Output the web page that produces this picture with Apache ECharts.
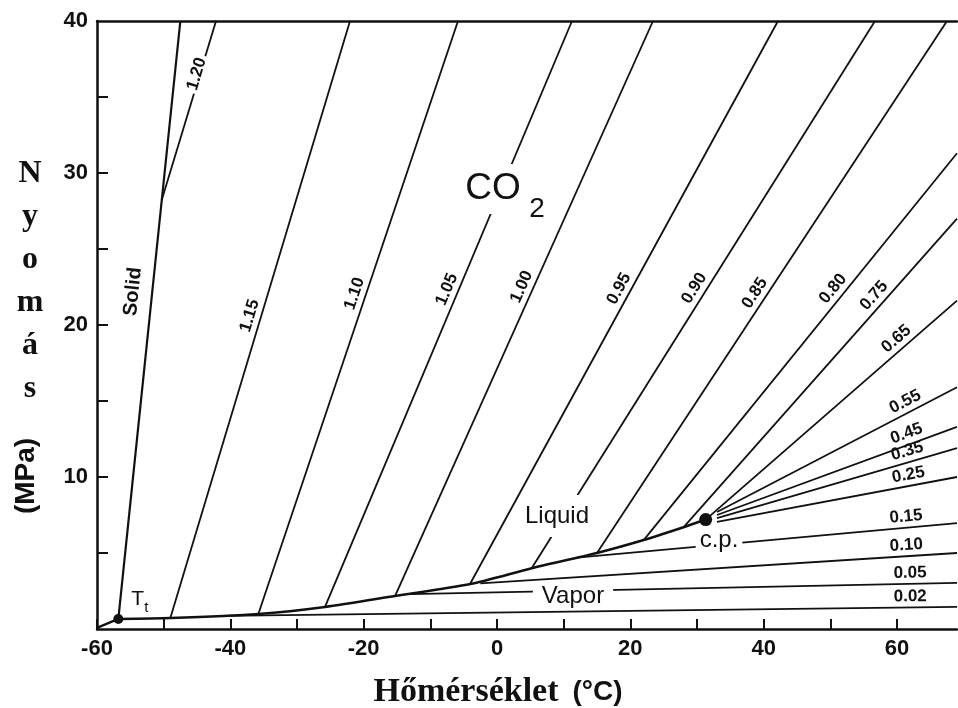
<!DOCTYPE html>
<html>
<head>
<meta charset="utf-8">
<script src="https://cdn.jsdelivr.net/npm/echarts@6/dist/echarts.min.js"></script>
<style>
  html, body { margin: 0; padding: 0; background: #fff; }
  #chart { width: 958px; height: 708px; }
</style>
</head>
<body>
<div id="chart"></div>
<script>
// ---- axes ----
const tempTicks = [-60, -50, -40, -30, -20, -10, 0, 10, 20, 30, 40, 50, 60];
const tempTickLabels = [-60, -40, -20, 0, 20, 40, 60];
const presTicks = [5, 10, 15, 20, 25, 30, 35];
const presTickLabels = [10, 20, 30, 40];

// ---- phase boundaries (T in °C, P in MPa) ----
// vapour-pressure curve from the triple point to the critical point
const satTemp = [-56.8, -49, -35.8, -25.8, -15.3, -4.0, 5.2, 15, 22, 28, 31.3];
const satPres = [0.66, 0.72, 0.99, 1.45, 2.17, 2.96, 4.0, 5.0, 5.85, 6.7, 7.2];
// sublimation curve below the triple point
const sublTemp = [-60, -56.8];
const sublPres = [0.07, 0.66];
// melting curve
const meltTemp = [-56.8, -47.5];
const meltPres = [0.66, 40];

const triplePoint = [-56.8, 0.66];
const criticalPoint = [31.3, 7.2];

// ---- isochores, density in g/cm3 ----
const isoDensity = ['1.20', '1.15', '1.10', '1.05', '1.00', '0.95', '0.90', '0.85', '0.80', '0.75',
                    '0.65', '0.55', '0.45', '0.35', '0.25', '0.15', '0.10', '0.05', '0.02'];
const isoStartTemp = [-50.3, -49, -35.8, -25.8, -15.3, -4.05, 5.2, 15, 22, 28,
                      31.3, 33, 33, 33, 33, 12, -2.5, -13, -41];
const isoStartPres = [28.2, 0.72, 0.99, 1.45, 2.17, 2.96, 4.0, 5.0, 5.85, 6.7,
                      7.2, 7.7, 7.5, 7.3, 7.05, 4.7, 3.0, 2.3, 0.86];
const isoEndTemp = [-42.15, -22.05, -5.85, 11.25, 23.4, 42.15, 56.7, 67.5, 69, 69,
                    69, 69, 69, 69, 69, 69, 69, 69, 69];
const isoEndPres = [40, 40, 40, 40, 40, 40, 40, 40, 31.3, 27.0,
                    21.6, 15.9, 13.3, 11.9, 10.0, 6.97, 5.0, 3.03, 1.45];
// temperature along each isochore where its density label sits
const isoLabelTemp = [-44.6, -35.5, -19.8, -6.0, 5.2, 19.75, 31.0, 40.05, 51.7, 57.8,
                      61.0, 62, 62, 62, 62, 61.5, 61.5, 62, 62];

// ---- region names ----
const phaseNames = ['Solid', 'Liquid', 'Vapor'];
const phaseNameTemp = [-54.6, 9.0, 11.4];
const phaseNamePres = [22.2, 7.43, 2.17];

const INK = '#111';
const SANS = "'Liberation Sans', Arial, Helvetica, sans-serif";
const SERIF = "'Liberation Serif', 'Times New Roman', serif";

const chart = echarts.init(document.getElementById('chart'));

function pairs(ts, ps) { return ts.map((t, i) => [t, ps[i]]); }

function curve(data, width, extra) {
  return Object.assign({
    type: 'line', data: data, symbol: 'none', silent: true, z: 2,
    lineStyle: { color: INK, width: width }
  }, extra || {});
}

const series = [];
series.push(curve(pairs(satTemp, satPres), 2.6, { smooth: 0.25 }));
series.push(curve(pairs(sublTemp, sublPres), 2.4));
series.push(curve(pairs(meltTemp, meltPres), 2.2));
isoDensity.forEach((d, i) => {
  series.push(curve([[isoStartTemp[i], isoStartPres[i]], [isoEndTemp[i], isoEndPres[i]]], 1.8));
});
series.push({
  type: 'scatter', silent: true, z: 4, symbol: 'circle',
  itemStyle: { color: INK, opacity: 1 },
  data: [
    { value: triplePoint, symbolSize: 10 },
    { value: criticalPoint, symbolSize: 13 }
  ]
});

const option = {
  animation: false,
  backgroundColor: '#fff',
  grid: { left: 97, right: 1, top: 21, bottom: 79, containLabel: false },
  xAxis: [{
    type: 'value', min: -60, max: 69, position: 'bottom',
    axisLine: { show: true, onZero: false, lineStyle: { color: INK, width: 2.5 } },
    axisTick: { show: true, inside: true, length: 10, customValues: tempTicks, lineStyle: { color: INK, width: 2 } },
    axisLabel: { customValues: tempTickLabels, color: INK, fontFamily: SANS, fontWeight: 'bold', fontSize: 22, margin: 9 },
    splitLine: { show: false }
  }, {
    type: 'value', min: -60, max: 69, position: 'top',
    axisLine: { show: true, onZero: false, lineStyle: { color: INK, width: 2.5 } },
    axisTick: { show: false }, axisLabel: { show: false }, splitLine: { show: false }
  }],
  yAxis: {
    type: 'value', min: 0, max: 40,
    axisLine: { show: true, onZero: false, lineStyle: { color: INK, width: 2.5 } },
    axisTick: { show: true, inside: true, length: 11, customValues: presTicks, lineStyle: { color: INK, width: 2 } },
    axisLabel: { customValues: presTickLabels, color: INK, fontFamily: SANS, fontWeight: 'bold', fontSize: 22, margin: 9 },
    splitLine: { show: false }
  },
  graphic: [
    {
      type: 'text', x: 498, y: 692, z: 10,
      style: {
        text: '{a|Hőmérséklet}{b|(°C)}', align: 'center', verticalAlign: 'middle',
        textAlign: 'center', textVerticalAlign: 'middle', fill: INK,
        rich: {
          a: { fontFamily: SERIF, fontWeight: 'bold', fontSize: 34, fill: INK },
          b: { fontFamily: SANS, fontWeight: 'bold', fontSize: 28, fill: INK, padding: [0, 0, 0, 14] }
        }
      }
    },
    {
      type: 'text', x: 30, y: 152, z: 10,
      style: {
        text: 'N\ny\no\nm\ná\ns', lineHeight: 43, align: 'center', verticalAlign: 'top',
        textAlign: 'center', textVerticalAlign: 'top', fill: INK,
        font: 'bold 32px ' + SERIF
      }
    },
    {
      type: 'text', x: 26, y: 476, rotation: Math.PI / 2, z: 10,
      style: {
        text: '(MPa)', align: 'center', verticalAlign: 'middle',
        textAlign: 'center', textVerticalAlign: 'middle', fill: INK,
        font: 'bold 28px ' + SANS
      }
    }
  ],
  series: series
};

chart.setOption(option);

// ---- labels, placed along the drawn lines ----
const toPx = (t, p) => chart.convertToPixel({ gridIndex: 0 }, [t, p]);
const toData = (x, y) => chart.convertFromPixel({ gridIndex: 0 }, [x, y]);
const angleOf = (a, b) => Math.atan2(a[1] - b[1], b[0] - a[0]);

const isoLabels = isoDensity.map((d, i) => {
  const a = toPx(isoStartTemp[i], isoStartPres[i]);
  const b = toPx(isoEndTemp[i], isoEndPres[i]);
  const ang = angleOf(a, b);
  const f = (isoLabelTemp[i] - isoStartTemp[i]) / (isoEndTemp[i] - isoStartTemp[i]);
  const px = a[0] + f * (b[0] - a[0]);
  const py = a[1] + f * (b[1] - a[1]);
  const onLine = i === 0;
  const gap = onLine ? 3 : 11;
  return {
    value: toData(px - gap * Math.sin(ang), py - gap * Math.cos(ang)),
    label: {
      formatter: d,
      rotate: ang * 180 / Math.PI,
      backgroundColor: onLine ? '#fff' : 'transparent',
      padding: onLine ? [0, 3] : 0
    }
  };
});

const meltAngle = angleOf(toPx(meltTemp[0], meltPres[0]), toPx(meltTemp[1], meltPres[1])) * 180 / Math.PI;

const noteLabels = [
  { value: [phaseNameTemp[0], phaseNamePres[0]],
    label: { formatter: phaseNames[0], rotate: meltAngle, fontWeight: 'bold', fontSize: 20 } },
  { value: [phaseNameTemp[1], phaseNamePres[1]],
    label: { formatter: phaseNames[1], fontSize: 24, backgroundColor: '#fff', padding: [8, 3, 10, 3] } },
  { value: [phaseNameTemp[2], phaseNamePres[2]],
    label: { formatter: phaseNames[2], fontSize: 24, backgroundColor: '#fff', padding: [0, 9] } },
  { value: [33.3, 5.86],
    label: { formatter: 'c.p.', fontSize: 24, backgroundColor: '#fff', padding: [0, 4] } },
  { value: [-0.6, 28.95],
    label: { formatter: 'CO', fontSize: 37, backgroundColor: '#fff', padding: [8, 4, 5, 4] } },
  { value: [6.0, 27.63],
    label: { formatter: '2', fontSize: 28 } },
  { value: [-53.9, 1.95],
    label: { formatter: 'T', fontSize: 21 } },
  { value: [-52.6, 1.38],
    label: { formatter: 't', fontSize: 15 } }
];

const labelBase = {
  type: 'scatter', silent: true, symbol: 'circle', symbolSize: 0,
  itemStyle: { color: INK, opacity: 1 },
  emphasis: { disabled: true }
};

chart.setOption({
  series: series.concat([
    Object.assign({}, labelBase, {
      z: 6,
      label: { show: true, position: 'inside', color: INK, opacity: 1, textBorderWidth: 0,
               fontFamily: SANS, fontWeight: 'bold', fontSize: 17 },
      data: isoLabels
    }),
    Object.assign({}, labelBase, {
      z: 7,
      label: { show: true, position: 'inside', color: INK, opacity: 1, textBorderWidth: 0,
               fontFamily: SANS, fontWeight: 'normal' },
      data: noteLabels
    })
  ])
});
</script>
</body>
</html>
